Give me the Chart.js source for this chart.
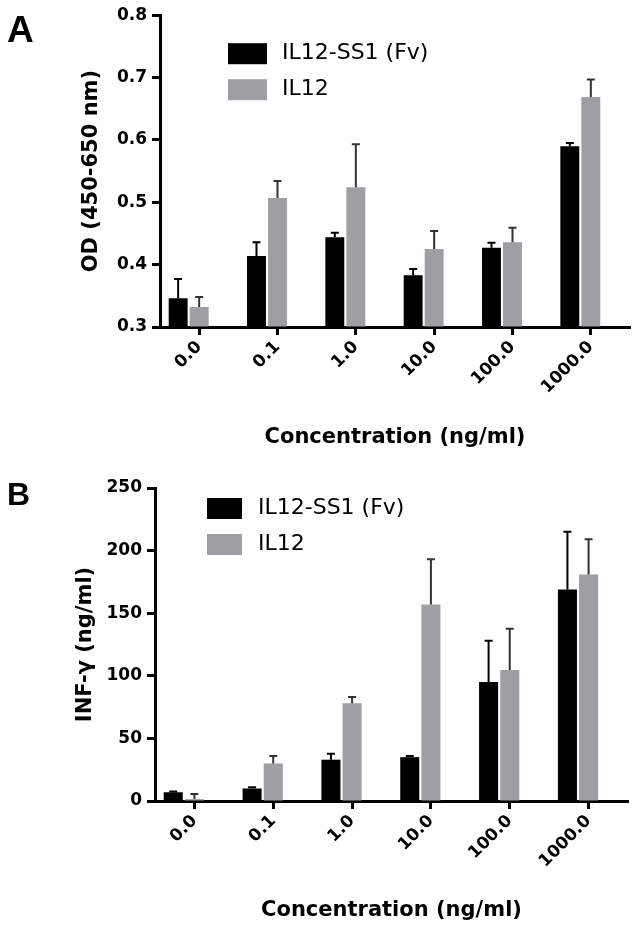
<!DOCTYPE html>
<html>
<head>
<meta charset="utf-8">
<script src="https://cdn.jsdelivr.net/npm/chart.js@4.4.1/dist/chart.umd.min.js"></script>
<style>
	html, body { margin: 0; padding: 0; background: #fff; }
	canvas { position: absolute; left: 0; }
	#chartA { top: 0; }
	#chartB { top: 465px; }
</style>
</head>
<body>
<canvas id="chartA" width="636" height="465"></canvas>
<canvas id="chartB" width="636" height="464"></canvas>
<script>
// concentrations (ng/ml)
const categories = ["0.0", "0.1", "1.0", "10.0", "100.0", "1000.0"];

// panel A: OD (450-650 nm)
const odFv = [0.346, 0.414, 0.444, 0.383, 0.427, 0.590];
const odFvErr = [0.031, 0.022, 0.007, 0.010, 0.008, 0.005];
const odIl12 = [0.332, 0.507, 0.524, 0.425, 0.436, 0.669];
const odIl12Err = [0.016, 0.027, 0.069, 0.029, 0.023, 0.028];
const odTicks = [0.3, 0.4, 0.5, 0.6, 0.7, 0.8];

// panel B: INF-γ (ng/ml)
const infFv = [7, 10, 33, 35, 95, 169];
const infFvErr = [0.5, 1, 4.8, 1, 33, 46];
const infIl12 = [1.5, 30, 78, 157, 104.6, 181];
const infIl12Err = [4, 6, 5, 36, 33, 28];
const infTicks = [0, 50, 100, 150, 200, 250];

// empty slot so the tick sits under the grey bar, like in Prism
const spacerValues = [0, 0, 0, 0, 0, 0];

const BLACK = "#000000";
const GREY = "#9e9ea3";

Chart.defaults.font.family = "'DejaVu Sans', sans-serif";
Chart.defaults.color = "#000";

const errorBars = {
	id: "errorBars",
	afterDatasetsDraw(chart) {
		const ctx = chart.ctx;
		const yScale = chart.scales.y;
		chart.data.datasets.forEach((ds, i) => {
			if (!ds.errors) return;
			const meta = chart.getDatasetMeta(i);
			ctx.save();
			ctx.strokeStyle = ds.errorColor;
			ctx.lineWidth = 2;
			meta.data.forEach((bar, j) => {
				const top = yScale.getPixelForValue(ds.data[j] + ds.errors[j]);
				ctx.beginPath();
				ctx.moveTo(bar.x, bar.y);
				ctx.lineTo(bar.x, top);
				ctx.moveTo(bar.x - 4, top);
				ctx.lineTo(bar.x + 4, top);
				ctx.stroke();
			});
			ctx.restore();
		});
	},
};

const insideLegend = {
	id: "insideLegend",
	afterDraw(chart, args, opts) {
		const { ctx, chartArea } = chart;
		ctx.save();
		ctx.font = "22px 'DejaVu Sans'";
		ctx.textBaseline = "middle";
		let row = 0;
		chart.data.datasets.forEach((ds) => {
			if (!ds.label) return;
			const x = chartArea.left + opts.left;
			const y = chartArea.top + opts.top + row * opts.rowGap;
			ctx.fillStyle = ds.backgroundColor;
			ctx.fillRect(x, y - opts.boxH / 2, opts.boxW, opts.boxH);
			ctx.fillStyle = "#000";
			ctx.fillText(ds.label, x + opts.boxW + opts.gap, y);
			row++;
		});
		ctx.restore();
	},
};

const panelLabel = {
	id: "panelLabel",
	afterDraw(chart, args, opts) {
		const ctx = chart.ctx;
		ctx.save();
		ctx.font = `bold ${opts.size}px 'Liberation Sans'`;
		ctx.fillStyle = "#000";
		ctx.textBaseline = "alphabetic";
		ctx.fillText(opts.text, opts.x, opts.y);
		ctx.restore();
	},
};

const makeChart = (id, cfg) => {
	const datasets = [
		{
			label: "IL12-SS1 (Fv)",
			data: cfg.fv,
			errors: cfg.fvErr,
			errorColor: "#000",
			backgroundColor: BLACK,
			base: cfg.min,
		},
		{
			label: "IL12",
			data: cfg.il12,
			errors: cfg.il12Err,
			errorColor: "#333",
			backgroundColor: GREY,
			base: cfg.min,
		},
		{
			data: spacerValues,
			backgroundColor: "rgba(0,0,0,0)",
			base: cfg.min,
		},
	];
	return new Chart(document.getElementById(id), {
		type: "bar",
		data: { labels: categories, datasets: datasets },
		options: {
			responsive: false,
			animation: false,
			categoryPercentage: 0.805,
			barPercentage: 0.9,
			layout: { padding: cfg.padding },
			plugins: {
				legend: { display: false },
				tooltip: { enabled: false },
				insideLegend: cfg.legend,
				panelLabel: cfg.letter,
			},
			scales: {
				x: {
					grid: {
						drawOnChartArea: false,
						offset: false,
						tickLength: 8,
						tickWidth: 3,
						tickColor: "#000",
					},
					border: { color: "#000", width: 3 },
					ticks: {
						color: "#000",
						font: { size: 17, weight: "bold" },
						minRotation: 45,
						maxRotation: 45,
						padding: 2,
					},
					title: {
						display: true,
						text: "Concentration (ng/ml)",
						color: "#000",
						font: { size: 21, weight: "bold" },
						padding: 0,
					},
					afterFit: (s) => {
						s.height = cfg.xHeight;
					},
				},
				y: {
					min: cfg.min,
					max: cfg.max,
					afterBuildTicks: (s) => {
						s.ticks = cfg.ticks.map((v) => ({ value: v }));
					},
					grid: {
						drawOnChartArea: false,
						tickLength: 8,
						tickWidth: 3,
						tickColor: "#000",
					},
					border: { color: "#000", width: 3 },
					ticks: {
						color: "#000",
						font: { size: 17, weight: "bold" },
						padding: 5,
						callback: (v) => v.toFixed(cfg.decimals),
					},
					title: {
						display: true,
						text: cfg.yTitle,
						color: "#000",
						font: { size: 21, weight: "bold" },
						padding: 0,
					},
					afterFit: (s) => {
						s.width = cfg.yWidth;
					},
				},
			},
		},
		plugins: [errorBars, insideLegend, panelLabel],
	});
};

makeChart("chartA", {
	fv: odFv,
	fvErr: odFvErr,
	il12: odIl12,
	il12Err: odIl12Err,
	ticks: odTicks,
	min: 0.3,
	max: 0.8,
	decimals: 1,
	yTitle: "OD (450-650 nm)",
	padding: { left: 79, top: 15, right: 6, bottom: 15 },
	yWidth: 81,
	xHeight: 123,
	legend: { left: 68, top: 38.5, rowGap: 36, boxW: 39, boxH: 21, gap: 15 },
	letter: { text: "A", x: 7, y: 42, size: 37 },
});

makeChart("chartB", {
	fv: infFv,
	fvErr: infFvErr,
	il12: infIl12,
	il12Err: infIl12Err,
	ticks: infTicks,
	min: 0,
	max: 250,
	decimals: 0,
	yTitle: "INF-γ (ng/ml)",
	padding: { left: 73, top: 23, right: 8, bottom: 6 },
	yWidth: 82,
	xHeight: 122,
	legend: { left: 52, top: 20.5, rowGap: 36, boxW: 35, boxH: 21, gap: 16 },
	letter: { text: "B", x: 7, y: 40, size: 32 },
});
</script>
</body>
</html>
